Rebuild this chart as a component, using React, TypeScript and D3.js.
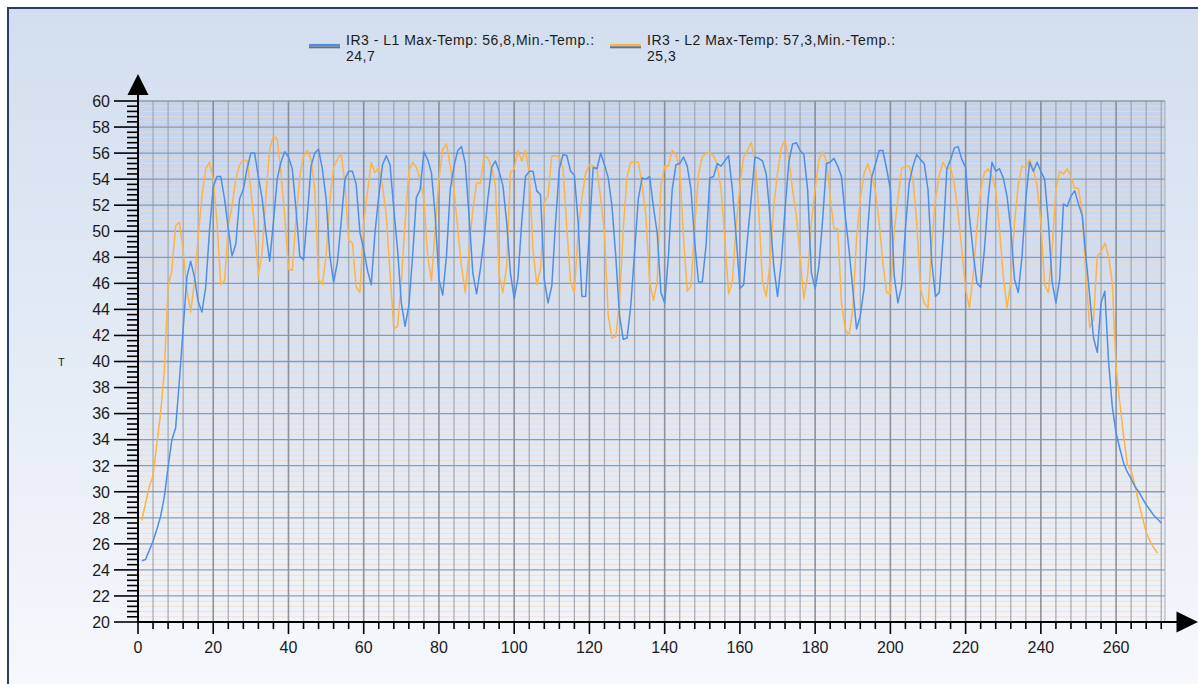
import React from 'react';
import * as d3 from 'd3';

// x = 1..272 (blue), 1..271 (orange)
const l1Values = [
  24.7, 24.8, 25.5, 26.2, 27.1, 28.1, 29.6, 31.9, 34.0, 34.9,
  38.5, 42.5, 46.5, 47.7, 46.5, 44.6, 43.8, 45.7, 50.0, 53.4,
  54.2, 54.2, 52.5, 50.2, 48.1, 49.0, 52.5, 53.2, 54.8, 56.0,
  56.0, 54.2, 52.5, 49.9, 47.7, 50.7, 54.0, 55.3, 56.1, 55.7,
  54.8, 51.7, 48.1, 47.8, 51.2, 55.0, 56.0, 56.3, 54.8, 52.5,
  48.1, 46.1, 47.6, 50.7, 54.0, 54.6, 54.6, 53.6, 49.9, 48.6,
  47.0, 45.9, 49.9, 52.7, 55.1, 55.8, 55.1, 51.7, 48.6, 44.5,
  42.7, 44.3, 48.1, 52.6, 53.2, 56.1, 55.5, 54.5, 51.2, 46.3,
  45.1, 48.1, 53.2, 55.0, 56.2, 56.5, 55.2, 51.2, 46.8, 45.2,
  47.1, 49.4, 52.5, 54.9, 55.4, 54.6, 53.5, 50.7, 46.8, 44.8,
  46.4, 50.7, 54.2, 54.6, 54.6, 53.1, 52.8, 46.3, 44.5, 45.8,
  50.7, 54.8, 55.9, 55.8, 54.6, 54.3, 50.7, 45.0, 45.0, 50.2,
  54.9, 54.8, 56.0, 55.1, 54.1, 51.9, 48.1, 43.5, 41.7, 41.8,
  44.3, 48.4, 52.5, 54.1, 54.0, 54.2, 51.9, 49.9, 45.3, 44.5,
  48.1, 53.2, 55.1, 55.2, 55.7, 55.0, 53.2, 49.1, 46.1, 46.1,
  48.9, 54.1, 54.2, 55.2, 55.0, 55.4, 55.8, 53.2, 49.6, 45.6,
  45.9, 49.4, 52.5, 55.7, 55.6, 55.4, 54.4, 51.2, 47.3, 45.0,
  47.6, 51.7, 55.3, 56.7, 56.8, 56.2, 55.9, 53.2, 46.8, 45.6,
  47.3, 50.9, 55.2, 55.3, 55.6, 55.0, 54.2, 51.2, 48.6, 45.6,
  42.5, 43.5, 45.6, 50.2, 54.1, 55.1, 56.2, 56.2, 54.8, 53.2,
  46.6, 44.5, 45.8, 50.2, 53.7, 55.0, 55.9, 55.5, 55.2, 53.2,
  47.6, 45.0, 45.3, 49.4, 54.8, 55.5, 56.4, 56.5, 55.5, 54.9,
  51.2, 48.4, 46.0, 45.7, 48.6, 52.5, 55.3, 54.6, 54.8, 54.1,
  52.7, 50.2, 46.3, 45.3, 48.1, 52.5, 55.3, 54.6, 55.3, 54.6,
  54.0, 50.7, 46.1, 44.5, 46.3, 52.1, 51.9, 52.7, 53.1, 52.1,
  51.2, 48.0, 45.0, 41.8, 40.7, 44.5, 45.4, 40.0, 36.5, 34.5,
  33.3, 32.2, 31.5, 31.0, 30.4, 30.0, 29.5, 29.0, 28.6, 28.2,
  27.9, 27.6,
];

const l2Values = [
  27.8, 29.1, 30.4, 31.2, 33.7, 36.0, 39.3, 45.8, 47.0, 50.4,
  50.7, 48.6, 45.5, 43.8, 46.1, 49.6, 52.7, 54.8, 55.3, 54.0,
  50.7, 45.9, 46.2, 50.4, 51.9, 54.0, 55.1, 55.5, 55.4, 53.2,
  50.2, 46.6, 48.4, 52.7, 56.3, 57.3, 57.1, 54.5, 51.2, 47.1,
  47.0, 50.9, 54.2, 55.8, 56.2, 55.5, 53.2, 46.3, 45.9, 48.1,
  52.4, 54.9, 55.5, 56.0, 53.7, 49.3, 49.1, 45.7, 45.3, 50.7,
  53.0, 55.3, 54.5, 54.9, 53.5, 51.2, 46.8, 42.5, 42.7, 46.1,
  50.7, 54.6, 55.3, 54.9, 54.0, 52.5, 48.1, 46.2, 50.2, 54.0,
  56.3, 56.7, 55.0, 53.2, 50.2, 47.3, 45.3, 48.5, 51.6, 53.7,
  53.7, 55.8, 55.6, 54.9, 53.5, 46.6, 45.3, 47.3, 54.5, 54.8,
  56.2, 55.4, 56.2, 54.5, 48.6, 45.9, 47.1, 52.2, 52.7, 55.8,
  55.8, 55.7, 54.8, 50.2, 46.1, 45.3, 49.9, 52.5, 54.5, 55.1,
  55.0, 54.8, 52.5, 49.9, 43.5, 41.8, 41.9, 44.5, 50.2, 54.2,
  55.3, 55.3, 55.3, 53.6, 51.2, 46.1, 44.7, 46.1, 53.5, 55.0,
  55.0, 56.2, 55.9, 54.8, 49.6, 45.4, 45.8, 50.4, 54.4, 55.7,
  56.0, 56.0, 55.8, 55.1, 53.2, 49.4, 45.2, 46.1, 50.4, 53.5,
  55.7, 56.2, 56.8, 55.5, 51.7, 46.1, 45.0, 47.6, 51.9, 54.5,
  56.4, 57.0, 55.5, 53.2, 51.2, 48.1, 44.8, 46.6, 50.7, 53.2,
  55.5, 56.1, 55.4, 52.7, 50.2, 50.2, 44.5, 42.5, 42.0, 44.0,
  49.4, 52.5, 54.4, 55.2, 54.2, 53.2, 50.7, 47.6, 45.3, 45.2,
  49.9, 52.5, 54.8, 55.0, 55.0, 54.0, 50.7, 45.6, 44.5, 44.1,
  49.1, 52.5, 54.3, 55.3, 54.8, 54.9, 53.6, 51.4, 48.6, 45.6,
  44.1, 46.6, 50.2, 53.2, 54.5, 54.8, 54.2, 53.2, 50.2, 46.6,
  44.1, 46.1, 50.7, 53.6, 55.0, 54.9, 55.5, 54.8, 53.5, 50.7,
  45.9, 45.3, 48.6, 53.2, 54.6, 54.4, 54.8, 54.2, 53.3, 53.3,
  51.4, 46.5, 42.6, 43.2, 48.1, 48.4, 49.1, 48.1, 46.0, 39.5,
  36.8, 34.3, 32.1, 31.6, 30.5, 29.2, 28.0, 26.9, 26.2, 25.7,
  25.3,
];

const seriesNames = ['IR3 - L1 Max-Temp: 56,8,Min.-Temp.:', 'IR3 - L2 Max-Temp: 57,3,Min.-Temp.:'];
const seriesNames2 = ['24,7', '25,3'];
const seriesColors = ['#4d8fe8', '#fbb448'];
const xTickValues = d3.range(0, 261, 20);
const yTickValues = d3.range(20, 61, 2);

export default function App() {
  const W = 1198;
  const H = 684;
  const x = d3.scaleLinear().domain([0, 273]).range([138, 1165]);
  const y = d3.scaleLinear().domain([20, 60]).range([622, 101]);
  const line = d3
    .line<number>()
    .x((_, i) => x(i + 1))
    .y((d) => y(d));

  const minorY = d3.range(0, 101).map((k) => 20 + k * 0.4);
  const minorX = d3.range(4, 273, 4);

  const font = '"Liberation Sans", Arial, sans-serif';

  return (
    <svg
      width={W}
      height={H}
      style={{ position: 'absolute', left: 0, top: 0, background: '#fff' }}
    >
      <defs>
        <linearGradient id="outerBg" x1="0" y1="0" x2="0" y2="1">
          <stop offset="0" stopColor="#d2deef" />
          <stop offset="1" stopColor="#f6f8fc" />
        </linearGradient>
        <linearGradient id="plotBg" x1="0" y1="0" x2="0" y2="1">
          <stop offset="0" stopColor="#c2d3ee" />
          <stop offset="1" stopColor="#f1f4f9" />
        </linearGradient>
      </defs>
      <rect x={8} y={8} width={W} height={H} fill="url(#outerBg)" stroke="#2a3d66" strokeWidth={2} />
      <rect x={x(0)} y={y(60)} width={x(273) - x(0)} height={y(20) - y(60)} fill="url(#plotBg)" />

      {/* minor horizontal grid */}
      {minorY.map((v, k) =>
        k % 5 === 0 ? null : (
          <line key={'mh' + k} x1={x(0)} x2={x(273)} y1={y(v)} y2={y(v)} stroke="#f3d9c6" strokeOpacity={0.75} strokeWidth={1} />
        )
      )}
      {/* vertical grid */}
      {minorX.map((v) => (
        <line
          key={'vx' + v}
          x1={x(v)}
          x2={x(v)}
          y1={y(60)}
          y2={y(20)}
          stroke={v % 20 === 0 ? '#7c838d' : '#9aa2ad'}
          strokeWidth={v % 20 === 0 ? 1.6 : 1.3}
          strokeOpacity={0.85}
        />
      ))}
      {/* major horizontal grid */}
      {yTickValues.map((v) => (
        <line key={'hy' + v} x1={x(0)} x2={x(273)} y1={y(v)} y2={y(v)} stroke="#8a929c" strokeWidth={1.3} strokeOpacity={0.9} />
      ))}
      <line x1={x(273)} x2={x(273)} y1={y(60)} y2={y(20)} stroke="#a6adb6" strokeWidth={1} />

      {/* series */}
      <path d={line(l2Values) || ''} fill="none" stroke={seriesColors[1]} strokeWidth={1.5} strokeLinejoin="round" />
      <path d={line(l1Values) || ''} fill="none" stroke={seriesColors[0]} strokeWidth={1.5} strokeLinejoin="round" />

      {/* y axis */}
      <line x1={138} x2={138} y1={y(20) + 1} y2={93} stroke="#000" strokeWidth={2} />
      <path d={`M138,74 L127.5,95 L148.5,95 Z`} fill="#000" />
      {minorY.map((v, k) => (
        <line key={'ty' + k} x1={k % 5 === 0 ? 114 : 127} x2={138} y1={y(v)} y2={y(v)} stroke="#000" strokeWidth={1.6} />
      ))}
      {yTickValues.map((v) => (
        <text key={'ly' + v} x={110} y={y(v) + 5.8} textAnchor="end" fontSize={16} fontFamily={font} fill="#1b1b1b">
          {v}
        </text>
      ))}
      <text x={58} y={366} fontSize={11} fontFamily={font} fill="#1b1b1b">T</text>

      {/* x axis */}
      <line x1={137} x2={1178} y1={y(20)} y2={y(20)} stroke="#000" strokeWidth={2} />
      <path d={`M1198,622 L1176.5,611.5 L1176.5,632.5 Z`} fill="#000" />
      {minorX.map((v) => (
        <line key={'tx' + v} x1={x(v)} x2={x(v)} y1={622} y2={v % 20 === 0 ? 634 : 629} stroke="#000" strokeWidth={1.6} />
      ))}
      <line x1={x(0)} x2={x(0)} y1={622} y2={634} stroke="#000" strokeWidth={1.6} />
      {xTickValues.map((v) => (
        <text key={'lx' + v} x={x(v)} y={653} textAnchor="middle" fontSize={16} fontFamily={font} fill="#1b1b1b">
          {v}
        </text>
      ))}

      {/* legend */}
      {[0, 1].map((i) => {
        const lx = i === 0 ? 309 : 610;
        return (
          <g key={'lg' + i}>
            <line x1={lx} x2={lx + 31} y1={45} y2={45} stroke={seriesColors[i]} strokeWidth={2.2} />
            <line x1={lx} x2={lx + 31} y1={47.3} y2={47.3} stroke="#69717d" strokeWidth={2} />
            <text x={lx + 37} y={44.5} fontSize={14} letterSpacing={0.5} fontFamily={font} fill="#1b1b1b">
              {seriesNames[i]}
            </text>
            <text x={lx + 37} y={60.5} fontSize={14} letterSpacing={0.5} fontFamily={font} fill="#1b1b1b">
              {seriesNames2[i]}
            </text>
          </g>
        );
      })}
    </svg>
  );
}
